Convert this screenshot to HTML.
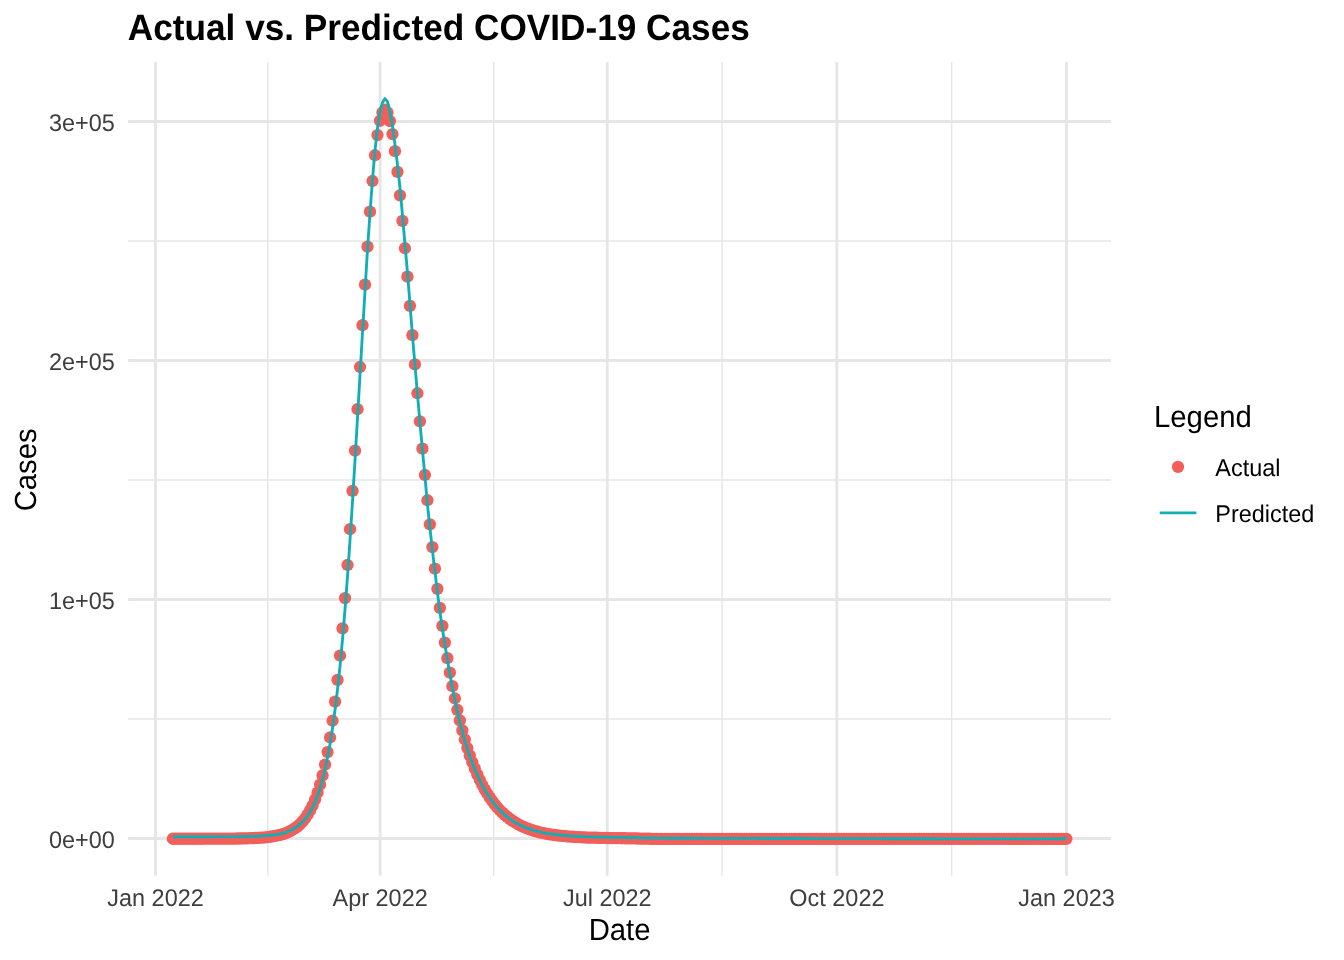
<!DOCTYPE html>
<html><head><meta charset="utf-8"><title>Actual vs. Predicted COVID-19 Cases</title>
<style>
html,body{margin:0;padding:0;background:#fff;}
body{width:1344px;height:960px;overflow:hidden;font-family:"Liberation Sans",sans-serif;}
svg{display:block;will-change:transform;}
svg text{font-family:"Liberation Sans",sans-serif;}
.tick{font-size:23.47px;fill:#3E3E3E;}
.axt{font-size:29.33px;fill:#000;}
.leg{font-size:23.47px;fill:#000;}
.ttl{font-size:35.2px;font-weight:bold;fill:#000;}
</style></head><body>
<svg width="1344" height="960" viewBox="0 0 1344 960">
<g stroke="#E6E6E6" fill="none">
<line x1="128.15" x2="1111.00" y1="719.00" y2="719.00" stroke-width="1.42"/>
<line x1="128.15" x2="1111.00" y1="480.00" y2="480.00" stroke-width="1.42"/>
<line x1="128.15" x2="1111.00" y1="241.00" y2="241.00" stroke-width="1.42"/>
<line x1="267.82" x2="267.82" y1="62.00" y2="875.75" stroke-width="1.42"/>
<line x1="493.69" x2="493.69" y1="62.00" y2="875.75" stroke-width="1.42"/>
<line x1="722.07" x2="722.07" y1="62.00" y2="875.75" stroke-width="1.42"/>
<line x1="951.69" x2="951.69" y1="62.00" y2="875.75" stroke-width="1.42"/>
<line x1="128.15" x2="1111.00" y1="838.50" y2="838.50" stroke-width="2.85"/>
<line x1="128.15" x2="1111.00" y1="599.50" y2="599.50" stroke-width="2.85"/>
<line x1="128.15" x2="1111.00" y1="360.50" y2="360.50" stroke-width="2.85"/>
<line x1="128.15" x2="1111.00" y1="121.50" y2="121.50" stroke-width="2.85"/>
<line x1="155.50" x2="155.50" y1="62.00" y2="875.75" stroke-width="2.85"/>
<line x1="380.13" x2="380.13" y1="62.00" y2="875.75" stroke-width="2.85"/>
<line x1="607.26" x2="607.26" y1="62.00" y2="875.75" stroke-width="2.85"/>
<line x1="836.88" x2="836.88" y1="62.00" y2="875.75" stroke-width="2.85"/>
<line x1="1066.50" x2="1066.50" y1="62.00" y2="875.75" stroke-width="2.85"/>
</g>
<g fill="#F15F5B">
<circle cx="172.82" cy="838.75" r="6.15"/><circle cx="175.32" cy="838.75" r="6.15"/><circle cx="177.81" cy="838.75" r="6.15"/><circle cx="180.31" cy="838.75" r="6.15"/><circle cx="182.80" cy="838.74" r="6.15"/><circle cx="185.30" cy="838.74" r="6.15"/><circle cx="187.80" cy="838.74" r="6.15"/><circle cx="190.29" cy="838.74" r="6.15"/><circle cx="192.79" cy="838.74" r="6.15"/><circle cx="195.28" cy="838.74" r="6.15"/><circle cx="197.78" cy="838.73" r="6.15"/><circle cx="200.28" cy="838.73" r="6.15"/><circle cx="202.77" cy="838.73" r="6.15"/><circle cx="205.27" cy="838.72" r="6.15"/><circle cx="207.76" cy="838.72" r="6.15"/><circle cx="210.26" cy="838.71" r="6.15"/><circle cx="212.76" cy="838.71" r="6.15"/><circle cx="215.25" cy="838.70" r="6.15"/><circle cx="217.75" cy="838.69" r="6.15"/><circle cx="220.24" cy="838.68" r="6.15"/><circle cx="222.74" cy="838.67" r="6.15"/><circle cx="225.23" cy="838.65" r="6.15"/><circle cx="227.73" cy="838.63" r="6.15"/><circle cx="230.23" cy="838.61" r="6.15"/><circle cx="232.72" cy="838.59" r="6.15"/><circle cx="235.22" cy="838.56" r="6.15"/><circle cx="237.71" cy="838.52" r="6.15"/><circle cx="240.21" cy="838.48" r="6.15"/><circle cx="242.71" cy="838.43" r="6.15"/><circle cx="245.20" cy="838.37" r="6.15"/><circle cx="247.70" cy="838.30" r="6.15"/><circle cx="250.19" cy="838.22" r="6.15"/><circle cx="252.69" cy="838.13" r="6.15"/><circle cx="255.19" cy="838.01" r="6.15"/><circle cx="257.68" cy="837.88" r="6.15"/><circle cx="260.18" cy="837.72" r="6.15"/><circle cx="262.67" cy="837.54" r="6.15"/><circle cx="265.17" cy="837.32" r="6.15"/><circle cx="267.67" cy="837.06" r="6.15"/><circle cx="270.16" cy="836.76" r="6.15"/><circle cx="272.66" cy="836.39" r="6.15"/><circle cx="275.15" cy="835.96" r="6.15"/><circle cx="277.65" cy="835.46" r="6.15"/><circle cx="280.14" cy="834.86" r="6.15"/><circle cx="282.64" cy="834.15" r="6.15"/><circle cx="285.14" cy="833.31" r="6.15"/><circle cx="287.63" cy="832.32" r="6.15"/><circle cx="290.13" cy="831.15" r="6.15"/><circle cx="292.62" cy="829.77" r="6.15"/><circle cx="295.12" cy="828.18" r="6.15"/><circle cx="297.62" cy="826.29" r="6.15"/><circle cx="300.11" cy="824.07" r="6.15"/><circle cx="302.61" cy="821.44" r="6.15"/><circle cx="305.10" cy="818.35" r="6.15"/><circle cx="307.60" cy="814.70" r="6.15"/><circle cx="310.10" cy="810.42" r="6.15"/><circle cx="312.59" cy="805.39" r="6.15"/><circle cx="315.09" cy="799.50" r="6.15"/><circle cx="317.58" cy="792.61" r="6.15"/><circle cx="320.08" cy="784.67" r="6.15"/><circle cx="322.57" cy="775.39" r="6.15"/><circle cx="325.07" cy="764.61" r="6.15"/><circle cx="327.57" cy="752.05" r="6.15"/><circle cx="330.06" cy="737.51" r="6.15"/><circle cx="332.56" cy="720.74" r="6.15"/><circle cx="335.05" cy="701.62" r="6.15"/><circle cx="337.55" cy="679.96" r="6.15"/><circle cx="340.05" cy="655.58" r="6.15"/><circle cx="342.54" cy="628.32" r="6.15"/><circle cx="345.04" cy="598.10" r="6.15"/><circle cx="347.53" cy="565.00" r="6.15"/><circle cx="350.03" cy="529.16" r="6.15"/><circle cx="352.53" cy="490.93" r="6.15"/><circle cx="355.02" cy="450.70" r="6.15"/><circle cx="357.52" cy="409.13" r="6.15"/><circle cx="360.01" cy="366.98" r="6.15"/><circle cx="362.51" cy="325.19" r="6.15"/><circle cx="365.00" cy="284.72" r="6.15"/><circle cx="367.50" cy="246.56" r="6.15"/><circle cx="370.00" cy="211.68" r="6.15"/><circle cx="372.49" cy="180.98" r="6.15"/><circle cx="374.99" cy="155.25" r="6.15"/><circle cx="377.48" cy="135.06" r="6.15"/><circle cx="379.98" cy="120.75" r="6.15"/><circle cx="382.48" cy="112.33" r="6.15"/><circle cx="384.97" cy="109.72" r="6.15"/><circle cx="387.47" cy="112.72" r="6.15"/><circle cx="389.96" cy="121.05" r="6.15"/><circle cx="392.46" cy="134.07" r="6.15"/><circle cx="394.96" cy="151.22" r="6.15"/><circle cx="397.45" cy="171.88" r="6.15"/><circle cx="399.95" cy="195.35" r="6.15"/><circle cx="402.44" cy="220.97" r="6.15"/><circle cx="404.94" cy="248.25" r="6.15"/><circle cx="407.43" cy="276.68" r="6.15"/><circle cx="409.93" cy="305.83" r="6.15"/><circle cx="412.43" cy="335.21" r="6.15"/><circle cx="414.92" cy="364.45" r="6.15"/><circle cx="417.42" cy="393.23" r="6.15"/><circle cx="419.91" cy="421.38" r="6.15"/><circle cx="422.41" cy="448.69" r="6.15"/><circle cx="424.91" cy="475.02" r="6.15"/><circle cx="427.40" cy="500.24" r="6.15"/><circle cx="429.90" cy="524.28" r="6.15"/><circle cx="432.39" cy="547.11" r="6.15"/><circle cx="434.89" cy="568.65" r="6.15"/><circle cx="437.39" cy="588.95" r="6.15"/><circle cx="439.88" cy="607.97" r="6.15"/><circle cx="442.38" cy="625.82" r="6.15"/><circle cx="444.87" cy="642.53" r="6.15"/><circle cx="447.37" cy="658.16" r="6.15"/><circle cx="449.87" cy="672.68" r="6.15"/><circle cx="452.36" cy="686.13" r="6.15"/><circle cx="454.86" cy="698.49" r="6.15"/><circle cx="457.35" cy="709.87" r="6.15"/><circle cx="459.85" cy="720.41" r="6.15"/><circle cx="462.34" cy="730.28" r="6.15"/><circle cx="464.84" cy="739.50" r="6.15"/><circle cx="467.34" cy="748.00" r="6.15"/><circle cx="469.83" cy="755.55" r="6.15"/><circle cx="472.33" cy="762.26" r="6.15"/><circle cx="474.82" cy="768.69" r="6.15"/><circle cx="477.32" cy="774.59" r="6.15"/><circle cx="479.82" cy="780.01" r="6.15"/><circle cx="482.31" cy="784.98" r="6.15"/><circle cx="484.81" cy="789.54" r="6.15"/><circle cx="487.30" cy="793.73" r="6.15"/><circle cx="489.80" cy="797.56" r="6.15"/><circle cx="492.30" cy="801.08" r="6.15"/><circle cx="494.79" cy="804.33" r="6.15"/><circle cx="497.29" cy="807.31" r="6.15"/><circle cx="499.78" cy="810.04" r="6.15"/><circle cx="502.28" cy="812.55" r="6.15"/><circle cx="504.77" cy="814.84" r="6.15"/><circle cx="507.27" cy="816.95" r="6.15"/><circle cx="509.77" cy="818.88" r="6.15"/><circle cx="512.26" cy="820.65" r="6.15"/><circle cx="514.76" cy="822.27" r="6.15"/><circle cx="517.25" cy="823.75" r="6.15"/><circle cx="519.75" cy="825.11" r="6.15"/><circle cx="522.25" cy="826.33" r="6.15"/><circle cx="524.74" cy="827.44" r="6.15"/><circle cx="527.24" cy="828.46" r="6.15"/><circle cx="529.73" cy="829.39" r="6.15"/><circle cx="532.23" cy="830.24" r="6.15"/><circle cx="534.73" cy="830.99" r="6.15"/><circle cx="537.22" cy="831.67" r="6.15"/><circle cx="539.72" cy="832.29" r="6.15"/><circle cx="542.21" cy="832.86" r="6.15"/><circle cx="544.71" cy="833.37" r="6.15"/><circle cx="547.20" cy="833.85" r="6.15"/><circle cx="549.70" cy="834.28" r="6.15"/><circle cx="552.20" cy="834.67" r="6.15"/><circle cx="554.69" cy="835.02" r="6.15"/><circle cx="557.19" cy="835.34" r="6.15"/><circle cx="559.68" cy="835.63" r="6.15"/><circle cx="562.18" cy="835.89" r="6.15"/><circle cx="564.68" cy="836.12" r="6.15"/><circle cx="567.17" cy="836.34" r="6.15"/><circle cx="569.67" cy="836.53" r="6.15"/><circle cx="572.16" cy="836.72" r="6.15"/><circle cx="574.66" cy="836.90" r="6.15"/><circle cx="577.16" cy="837.06" r="6.15"/><circle cx="579.65" cy="837.20" r="6.15"/><circle cx="582.15" cy="837.33" r="6.15"/><circle cx="584.64" cy="837.45" r="6.15"/><circle cx="587.14" cy="837.56" r="6.15"/><circle cx="589.63" cy="837.61" r="6.15"/><circle cx="592.13" cy="837.65" r="6.15"/><circle cx="594.63" cy="837.69" r="6.15"/><circle cx="597.12" cy="837.77" r="6.15"/><circle cx="599.62" cy="837.84" r="6.15"/><circle cx="602.11" cy="837.90" r="6.15"/><circle cx="604.61" cy="837.96" r="6.15"/><circle cx="607.11" cy="838.01" r="6.15"/><circle cx="609.60" cy="838.06" r="6.15"/><circle cx="612.10" cy="838.10" r="6.15"/><circle cx="614.59" cy="838.14" r="6.15"/><circle cx="617.09" cy="838.18" r="6.15"/><circle cx="619.59" cy="838.21" r="6.15"/><circle cx="622.08" cy="838.24" r="6.15"/><circle cx="624.58" cy="838.26" r="6.15"/><circle cx="627.07" cy="838.29" r="6.15"/><circle cx="629.57" cy="838.31" r="6.15"/><circle cx="632.07" cy="838.37" r="6.15"/><circle cx="634.56" cy="838.43" r="6.15"/><circle cx="637.06" cy="838.49" r="6.15"/><circle cx="639.55" cy="838.55" r="6.15"/><circle cx="642.05" cy="838.61" r="6.15"/><circle cx="644.54" cy="838.67" r="6.15"/><circle cx="647.04" cy="838.72" r="6.15"/><circle cx="649.54" cy="838.77" r="6.15"/><circle cx="652.03" cy="838.83" r="6.15"/><circle cx="654.53" cy="838.88" r="6.15"/><circle cx="657.02" cy="838.89" r="6.15"/><circle cx="659.52" cy="838.90" r="6.15"/><circle cx="662.02" cy="838.90" r="6.15"/><circle cx="664.51" cy="838.91" r="6.15"/><circle cx="667.01" cy="838.91" r="6.15"/><circle cx="669.50" cy="838.92" r="6.15"/><circle cx="672.00" cy="838.92" r="6.15"/><circle cx="674.50" cy="838.93" r="6.15"/><circle cx="676.99" cy="838.93" r="6.15"/><circle cx="679.49" cy="838.94" r="6.15"/><circle cx="681.98" cy="838.94" r="6.15"/><circle cx="684.48" cy="838.94" r="6.15"/><circle cx="686.97" cy="838.94" r="6.15"/><circle cx="689.47" cy="838.95" r="6.15"/><circle cx="691.97" cy="838.95" r="6.15"/><circle cx="694.46" cy="838.95" r="6.15"/><circle cx="696.96" cy="838.95" r="6.15"/><circle cx="699.45" cy="838.95" r="6.15"/><circle cx="701.95" cy="838.95" r="6.15"/><circle cx="704.45" cy="838.95" r="6.15"/><circle cx="706.94" cy="838.95" r="6.15"/><circle cx="709.44" cy="838.96" r="6.15"/><circle cx="711.93" cy="838.96" r="6.15"/><circle cx="714.43" cy="838.96" r="6.15"/><circle cx="716.93" cy="838.96" r="6.15"/><circle cx="719.42" cy="838.96" r="6.15"/><circle cx="721.92" cy="838.96" r="6.15"/><circle cx="724.41" cy="838.96" r="6.15"/><circle cx="726.91" cy="838.96" r="6.15"/><circle cx="729.40" cy="838.96" r="6.15"/><circle cx="731.90" cy="838.96" r="6.15"/><circle cx="734.40" cy="838.96" r="6.15"/><circle cx="736.89" cy="838.96" r="6.15"/><circle cx="739.39" cy="838.95" r="6.15"/><circle cx="741.88" cy="838.95" r="6.15"/><circle cx="744.38" cy="838.95" r="6.15"/><circle cx="746.88" cy="838.95" r="6.15"/><circle cx="749.37" cy="838.95" r="6.15"/><circle cx="751.87" cy="838.95" r="6.15"/><circle cx="754.36" cy="838.95" r="6.15"/><circle cx="756.86" cy="838.95" r="6.15"/><circle cx="759.36" cy="838.95" r="6.15"/><circle cx="761.85" cy="838.95" r="6.15"/><circle cx="764.35" cy="838.95" r="6.15"/><circle cx="766.84" cy="838.95" r="6.15"/><circle cx="769.34" cy="838.95" r="6.15"/><circle cx="771.83" cy="838.95" r="6.15"/><circle cx="774.33" cy="838.95" r="6.15"/><circle cx="776.83" cy="838.95" r="6.15"/><circle cx="779.32" cy="838.95" r="6.15"/><circle cx="781.82" cy="838.94" r="6.15"/><circle cx="784.31" cy="838.94" r="6.15"/><circle cx="786.81" cy="838.94" r="6.15"/><circle cx="789.31" cy="838.94" r="6.15"/><circle cx="791.80" cy="838.94" r="6.15"/><circle cx="794.30" cy="838.94" r="6.15"/><circle cx="796.79" cy="838.94" r="6.15"/><circle cx="799.29" cy="838.94" r="6.15"/><circle cx="801.79" cy="838.94" r="6.15"/><circle cx="804.28" cy="838.94" r="6.15"/><circle cx="806.78" cy="838.94" r="6.15"/><circle cx="809.27" cy="838.94" r="6.15"/><circle cx="811.77" cy="838.94" r="6.15"/><circle cx="814.27" cy="838.93" r="6.15"/><circle cx="816.76" cy="838.93" r="6.15"/><circle cx="819.26" cy="838.93" r="6.15"/><circle cx="821.75" cy="838.93" r="6.15"/><circle cx="824.25" cy="838.93" r="6.15"/><circle cx="826.74" cy="838.93" r="6.15"/><circle cx="829.24" cy="838.93" r="6.15"/><circle cx="831.74" cy="838.93" r="6.15"/><circle cx="834.23" cy="838.93" r="6.15"/><circle cx="836.73" cy="838.93" r="6.15"/><circle cx="839.22" cy="838.93" r="6.15"/><circle cx="841.72" cy="838.93" r="6.15"/><circle cx="844.22" cy="838.92" r="6.15"/><circle cx="846.71" cy="838.92" r="6.15"/><circle cx="849.21" cy="838.92" r="6.15"/><circle cx="851.70" cy="838.92" r="6.15"/><circle cx="854.20" cy="838.92" r="6.15"/><circle cx="856.70" cy="838.92" r="6.15"/><circle cx="859.19" cy="838.92" r="6.15"/><circle cx="861.69" cy="838.92" r="6.15"/><circle cx="864.18" cy="838.92" r="6.15"/><circle cx="866.68" cy="838.92" r="6.15"/><circle cx="869.17" cy="838.92" r="6.15"/><circle cx="871.67" cy="838.92" r="6.15"/><circle cx="874.17" cy="838.91" r="6.15"/><circle cx="876.66" cy="838.91" r="6.15"/><circle cx="879.16" cy="838.91" r="6.15"/><circle cx="881.65" cy="838.91" r="6.15"/><circle cx="884.15" cy="838.91" r="6.15"/><circle cx="886.65" cy="838.91" r="6.15"/><circle cx="889.14" cy="838.91" r="6.15"/><circle cx="891.64" cy="838.91" r="6.15"/><circle cx="894.13" cy="838.91" r="6.15"/><circle cx="896.63" cy="838.91" r="6.15"/><circle cx="899.13" cy="838.91" r="6.15"/><circle cx="901.62" cy="838.91" r="6.15"/><circle cx="904.12" cy="838.90" r="6.15"/><circle cx="906.61" cy="838.90" r="6.15"/><circle cx="909.11" cy="838.90" r="6.15"/><circle cx="911.60" cy="838.90" r="6.15"/><circle cx="914.10" cy="838.90" r="6.15"/><circle cx="916.60" cy="838.90" r="6.15"/><circle cx="919.09" cy="838.90" r="6.15"/><circle cx="921.59" cy="838.90" r="6.15"/><circle cx="924.08" cy="838.90" r="6.15"/><circle cx="926.58" cy="838.90" r="6.15"/><circle cx="929.08" cy="838.90" r="6.15"/><circle cx="931.57" cy="838.90" r="6.15"/><circle cx="934.07" cy="838.89" r="6.15"/><circle cx="936.56" cy="838.89" r="6.15"/><circle cx="939.06" cy="838.89" r="6.15"/><circle cx="941.56" cy="838.89" r="6.15"/><circle cx="944.05" cy="838.89" r="6.15"/><circle cx="946.55" cy="838.89" r="6.15"/><circle cx="949.04" cy="838.89" r="6.15"/><circle cx="951.54" cy="838.89" r="6.15"/><circle cx="954.03" cy="838.89" r="6.15"/><circle cx="956.53" cy="838.89" r="6.15"/><circle cx="959.03" cy="838.89" r="6.15"/><circle cx="961.52" cy="838.89" r="6.15"/><circle cx="964.02" cy="838.88" r="6.15"/><circle cx="966.51" cy="838.88" r="6.15"/><circle cx="969.01" cy="838.88" r="6.15"/><circle cx="971.51" cy="838.88" r="6.15"/><circle cx="974.00" cy="838.88" r="6.15"/><circle cx="976.50" cy="838.88" r="6.15"/><circle cx="978.99" cy="838.88" r="6.15"/><circle cx="981.49" cy="838.88" r="6.15"/><circle cx="983.99" cy="838.88" r="6.15"/><circle cx="986.48" cy="838.88" r="6.15"/><circle cx="988.98" cy="838.88" r="6.15"/><circle cx="991.47" cy="838.88" r="6.15"/><circle cx="993.97" cy="838.87" r="6.15"/><circle cx="996.47" cy="838.87" r="6.15"/><circle cx="998.96" cy="838.87" r="6.15"/><circle cx="1001.46" cy="838.87" r="6.15"/><circle cx="1003.95" cy="838.87" r="6.15"/><circle cx="1006.45" cy="838.87" r="6.15"/><circle cx="1008.94" cy="838.87" r="6.15"/><circle cx="1011.44" cy="838.87" r="6.15"/><circle cx="1013.94" cy="838.87" r="6.15"/><circle cx="1016.43" cy="838.87" r="6.15"/><circle cx="1018.93" cy="838.87" r="6.15"/><circle cx="1021.42" cy="838.87" r="6.15"/><circle cx="1023.92" cy="838.86" r="6.15"/><circle cx="1026.42" cy="838.86" r="6.15"/><circle cx="1028.91" cy="838.86" r="6.15"/><circle cx="1031.41" cy="838.86" r="6.15"/><circle cx="1033.90" cy="838.86" r="6.15"/><circle cx="1036.40" cy="838.86" r="6.15"/><circle cx="1038.90" cy="838.86" r="6.15"/><circle cx="1041.39" cy="838.86" r="6.15"/><circle cx="1043.89" cy="838.86" r="6.15"/><circle cx="1046.38" cy="838.86" r="6.15"/><circle cx="1048.88" cy="838.86" r="6.15"/><circle cx="1051.37" cy="838.86" r="6.15"/><circle cx="1053.87" cy="838.85" r="6.15"/><circle cx="1056.37" cy="838.85" r="6.15"/><circle cx="1058.86" cy="838.85" r="6.15"/><circle cx="1061.36" cy="838.85" r="6.15"/><circle cx="1063.85" cy="838.85" r="6.15"/><circle cx="1066.35" cy="838.85" r="6.15"/>
</g>
<polyline fill="none" stroke="#10AFB5" stroke-width="2.85" stroke-linejoin="round" stroke-linecap="butt" points="172.82,836.75 175.32,836.75 177.81,836.75 180.31,836.75 182.80,836.74 185.30,836.74 187.80,836.74 190.29,836.74 192.79,836.74 195.28,836.74 197.78,836.73 200.28,836.73 202.77,836.73 205.27,836.72 207.76,836.72 210.26,836.71 212.76,836.71 215.25,836.70 217.75,836.69 220.24,836.68 222.74,836.67 225.23,836.65 227.73,836.63 230.23,836.61 232.72,836.61 235.22,836.61 237.71,836.60 240.21,836.59 242.71,836.56 245.20,836.53 247.70,836.49 250.19,836.43 252.69,836.37 255.19,836.28 257.68,836.17 260.18,836.04 262.67,835.89 265.17,835.69 267.67,835.46 270.16,835.27 272.66,835.03 275.15,834.72 277.65,834.33 280.14,833.85 282.64,833.26 285.14,832.54 287.63,831.67 290.13,830.62 292.62,829.35 295.12,827.88 297.62,826.17 300.11,824.16 302.61,821.80 305.10,819.02 307.60,815.69 310.10,811.82 312.59,807.31 315.09,802.06 317.58,795.58 320.08,788.12 322.57,779.41 325.07,769.29 327.57,757.48 330.06,743.79 332.56,727.93 335.05,709.79 337.55,689.18 340.05,665.93 342.54,639.07 345.04,609.09 347.53,576.04 350.03,539.92 352.53,501.14 355.02,460.12 357.52,417.51 360.01,374.83 362.51,332.33 365.00,291.03 367.50,249.48 370.00,212.99 372.49,179.48 374.99,150.41 377.48,127.98 379.98,112.75 382.48,102.50 384.97,98.59 387.47,101.58 389.96,111.91 392.46,125.63 394.96,144.60 397.45,164.37 399.95,187.48 402.44,214.61 404.94,243.79 407.43,272.06 409.93,303.49 412.43,335.21 414.92,364.69 417.42,393.68 419.91,422.05 422.41,449.55 424.91,476.05 427.40,504.19 429.90,527.72 432.39,550.07 434.89,571.17 437.39,592.10 439.88,611.66 442.38,628.59 444.87,644.48 447.37,659.67 449.87,673.80 452.36,687.68 454.86,700.39 457.35,711.55 459.85,721.91 462.34,731.62 464.84,740.69 467.34,749.05 469.83,756.44 472.33,763.05 474.82,769.38 477.32,775.19 479.82,780.53 482.31,785.42 484.81,789.92 487.30,794.05 489.80,797.84 492.30,801.31 494.79,804.53 497.29,807.49 499.78,810.19 502.28,812.67 504.77,814.95 507.27,817.00 509.77,818.89 512.26,820.61 514.76,822.19 517.25,823.64 519.75,824.96 522.25,826.14 524.74,827.21 527.24,828.19 529.73,829.09 532.23,829.91 534.73,830.63 537.22,831.28 539.72,831.87 542.21,832.41 544.71,832.89 547.20,833.34 549.70,833.74 552.20,834.10 554.69,834.42 557.19,834.73 559.68,835.00 562.18,835.25 564.68,835.47 567.17,835.67 569.67,835.85 572.16,836.03 574.66,836.20 577.16,836.34 579.65,836.48 582.15,836.60 584.64,836.70 587.14,836.80 589.63,836.84 592.13,836.87 594.63,836.89 597.12,836.97 599.62,837.04 602.11,837.10 604.61,837.16 607.11,837.21 609.60,837.26 612.10,837.30 614.59,837.34 617.09,837.38 619.59,837.41 622.08,837.44 624.58,837.46 627.07,837.49 629.57,837.51 632.07,837.57 634.56,837.64 637.06,837.71 639.55,837.77 642.05,837.83 644.54,837.90 647.04,837.96 649.54,838.02 652.03,838.07 654.53,838.13 657.02,838.15 659.52,838.16 662.02,838.17 664.51,838.18 667.01,838.20 669.50,838.21 672.00,838.22 674.50,838.23 676.99,838.24 679.49,838.25 681.98,838.25 684.48,838.26 686.97,838.27 689.47,838.28 691.97,838.29 694.46,838.29 696.96,838.30 699.45,838.31 701.95,838.32 704.45,838.32 706.94,838.33 709.44,838.33 711.93,838.34 714.43,838.35 716.93,838.35 719.42,838.36 721.92,838.36 724.41,838.37 726.91,838.38 729.40,838.38 731.90,838.39 734.40,838.39 736.89,838.40 739.39,838.40 741.88,838.41 744.38,838.41 746.88,838.42 749.37,838.43 751.87,838.43 754.36,838.44 756.86,838.44 759.36,838.45 761.85,838.45 764.35,838.46 766.84,838.46 769.34,838.47 771.83,838.47 774.33,838.48 776.83,838.48 779.32,838.49 781.82,838.49 784.31,838.50 786.81,838.50 789.31,838.51 791.80,838.51 794.30,838.52 796.79,838.52 799.29,838.53 801.79,838.53 804.28,838.54 806.78,838.54 809.27,838.55 811.77,838.55 814.27,838.56 816.76,838.56 819.26,838.57 821.75,838.57 824.25,838.58 826.74,838.58 829.24,838.59 831.74,838.59 834.23,838.60 836.73,838.60 839.22,838.61 841.72,838.61 844.22,838.62 846.71,838.62 849.21,838.63 851.70,838.63 854.20,838.64 856.70,838.64 859.19,838.65 861.69,838.65 864.18,838.66 866.68,838.66 869.17,838.66 871.67,838.67 874.17,838.67 876.66,838.68 879.16,838.68 881.65,838.69 884.15,838.69 886.65,838.70 889.14,838.70 891.64,838.71 894.13,838.71 896.63,838.72 899.13,838.72 901.62,838.73 904.12,838.73 906.61,838.74 909.11,838.74 911.60,838.75 914.10,838.75 916.60,838.76 919.09,838.76 921.59,838.77 924.08,838.77 926.58,838.78 929.08,838.78 931.57,838.79 934.07,838.79 936.56,838.80 939.06,838.80 941.56,838.81 944.05,838.81 946.55,838.82 949.04,838.82 951.54,838.83 954.03,838.83 956.53,838.84 959.03,838.84 961.52,838.85 964.02,838.85 966.51,838.86 969.01,838.86 971.51,838.86 974.00,838.87 976.50,838.87 978.99,838.88 981.49,838.88 983.99,838.88 986.48,838.88 988.98,838.88 991.47,838.88 993.97,838.87 996.47,838.87 998.96,838.87 1001.46,838.87 1003.95,838.87 1006.45,838.87 1008.94,838.87 1011.44,838.87 1013.94,838.87 1016.43,838.87 1018.93,838.87 1021.42,838.87 1023.92,838.86 1026.42,838.86 1028.91,838.86 1031.41,838.86 1033.90,838.86 1036.40,838.86 1038.90,838.86 1041.39,838.86 1043.89,838.86 1046.38,838.86 1048.88,838.86 1051.37,838.86 1053.87,838.85 1056.37,838.85 1058.86,838.85 1061.36,838.85 1063.85,838.85 1066.35,837.15"/>
<text class="tick" transform="translate(114.9,848.25) skewX(0.05) scale(1,1.03)" text-anchor="end">0e+00</text>
<text class="tick" transform="translate(114.9,609.25) skewX(0.05) scale(1,1.03)" text-anchor="end">1e+05</text>
<text class="tick" transform="translate(114.9,370.25) skewX(0.05) scale(1,1.03)" text-anchor="end">2e+05</text>
<text class="tick" transform="translate(114.9,131.25) skewX(0.05) scale(1,1.03)" text-anchor="end">3e+05</text>
<text class="tick" transform="translate(155.50,905.8) skewX(0.05) scale(1,1.03)" text-anchor="middle">Jan 2022</text>
<text class="tick" transform="translate(380.13,905.8) skewX(0.05) scale(1,1.03)" text-anchor="middle">Apr 2022</text>
<text class="tick" transform="translate(607.26,905.8) skewX(0.05) scale(1,1.03)" text-anchor="middle">Jul 2022</text>
<text class="tick" transform="translate(836.88,905.8) skewX(0.05) scale(1,1.03)" text-anchor="middle">Oct 2022</text>
<text class="tick" transform="translate(1066.50,905.8) skewX(0.05) scale(1,1.03)" text-anchor="middle">Jan 2023</text>
<text class="axt" transform="translate(619.6,939.8) skewX(0.05) scale(1,1.04)" text-anchor="middle">Date</text>
<text class="axt" transform="translate(36.0,469.8) rotate(-90) skewX(0.05) scale(1,1.04)" text-anchor="middle">Cases</text>
<text class="ttl" transform="translate(127.8,40.0) skewX(0.05) scale(1,1.04)">Actual vs. Predicted COVID-19 Cases</text>
<text class="axt" transform="translate(1154.0,427.2) skewX(0.05) scale(1,1.04)">Legend</text>
<circle cx="1178" cy="466.8" r="6.15" fill="#F15F5B"/>
<line x1="1159.7" x2="1196.4" y1="512.8" y2="512.8" stroke="#10AFB5" stroke-width="2.8"/>
<text class="leg" transform="translate(1215.3,475.9) skewX(0.05) scale(1,1.035)">Actual</text>
<text class="leg" transform="translate(1215.3,522) skewX(0.05) scale(1,1.035)">Predicted</text>
</svg>
</body></html>
